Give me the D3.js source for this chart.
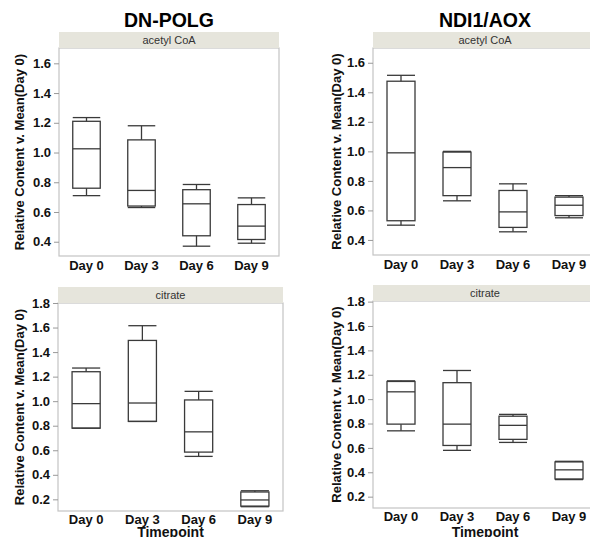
<!DOCTYPE html>
<html>
<head>
<meta charset="utf-8">
<script src="https://d3js.org/d3.v7.min.js"></script>
<style>
  body { margin: 0; background: #fff; }
  text { font-family: "Liberation Sans", Arial, sans-serif; }
</style>
</head>
<body>
<div id="chart"></div>
<script>
// categories
var days = ["Day 0", "Day 3", "Day 6", "Day 9"];

// box stats per day: [low whisker, q1, median, q3, high whisker]
var polgAcetyl = [
    [0.71, 0.76, 1.025, 1.21, 1.235],
    [0.63, 0.64, 0.745, 1.085, 1.18],
    [0.37, 0.44, 0.655, 0.75, 0.785],
    [0.39, 0.415, 0.505, 0.65, 0.695]
];
var aoxAcetyl = [
    [0.50, 0.53, 0.99, 1.475, 1.515],
    [0.665, 0.70, 0.89, 0.995, 1.0],
    [0.455, 0.485, 0.59, 0.735, 0.78],
    [0.55, 0.565, 0.635, 0.69, 0.70]
];
var polgCitrate = [
    [0.78, 0.78, 0.98, 1.24, 1.27],
    [0.835, 0.835, 0.985, 1.495, 1.615],
    [0.55, 0.585, 0.75, 1.01, 1.08],
    [0.14, 0.145, 0.195, 0.26, 0.27]
];
var aoxCitrate = [
    [0.74, 0.795, 1.06, 1.145, 1.15],
    [0.58, 0.62, 0.795, 1.135, 1.235],
    [0.645, 0.67, 0.785, 0.86, 0.875],
    [0.34, 0.345, 0.42, 0.485, 0.49]
];

// tick labels
var acetylTicks = [0.4, 0.6, 0.8, 1.0, 1.2, 1.4, 1.6];
var citrateTicks = [0.2, 0.4, 0.6, 0.8, 1.0, 1.2, 1.4, 1.6, 1.8];

var svg = d3.select("#chart")
    .append("svg")
    .attr("width", 590)
    .attr("height", 537);

function drawPanel(p) {
    var x = d3.scaleBand().domain(days).range([p.left, p.right]);
    var y = d3.scaleLinear().domain(p.domain).range([p.bottom, p.top]);
    var g = svg.append("g");

    // frame
    g.append("rect")
        .attr("x", p.left).attr("y", p.top)
        .attr("width", p.right - p.left).attr("height", p.bottom - p.top)
        .attr("fill", "none")
        .attr("stroke", "#c4c4c4")
        .attr("stroke-width", 1.2);

    // strip header
    g.append("rect")
        .attr("x", p.left).attr("y", p.stripTop)
        .attr("width", p.right - p.left).attr("height", p.top - p.stripTop)
        .attr("fill", "#e6e5dc");
    g.append("text")
        .attr("x", (p.left + p.right) / 2)
        .attr("y", (p.stripTop + p.top) / 2 + 4)
        .attr("text-anchor", "middle")
        .style("font-size", "11px")
        .style("fill", "#333")
        .text(p.strip);

    // y axis
    var yAxis = g.append("g")
        .attr("transform", "translate(" + p.left + ",0)")
        .call(d3.axisLeft(y).tickValues(p.ticks).tickSize(5).tickPadding(3).tickFormat(d3.format(".1f")));
    yAxis.select(".domain").remove();
    yAxis.selectAll("line").attr("stroke", "#999");
    yAxis.selectAll("text")
        .style("font-size", "13px")
        .style("font-weight", "bold")
        .style("font-family", "'Liberation Sans', Arial, sans-serif")
        .attr("fill", "#111");

    // x axis
    var xAxis = g.append("g")
        .attr("transform", "translate(0," + p.bottom + ")")
        .call(d3.axisBottom(x).tickSize(0).tickPadding(p.xtitle ? 3.5 : 5));
    xAxis.select(".domain").remove();
    xAxis.selectAll("text")
        .style("font-size", "13px")
        .style("font-weight", "bold")
        .style("font-family", "'Liberation Sans', Arial, sans-serif")
        .attr("fill", "#111");

    // boxes
    var bw = x.bandwidth() * 0.5;
    var boxes = g.append("g")
        .selectAll("g")
        .data(p.data)
        .enter()
        .append("g")
        .attr("transform", function(d, i) { return "translate(" + (x(days[i]) + x.bandwidth() / 2) + ",0)"; })
        .attr("stroke", "#3a3a3a")
        .attr("stroke-width", 1.3)
        .attr("fill", "none");

    boxes.append("line")
        .attr("x1", 0).attr("x2", 0)
        .attr("y1", function(d) { return y(d[4]); })
        .attr("y2", function(d) { return y(d[3]); });
    boxes.append("line")
        .attr("x1", 0).attr("x2", 0)
        .attr("y1", function(d) { return y(d[1]); })
        .attr("y2", function(d) { return y(d[0]); });
    boxes.append("rect")
        .attr("x", -bw / 2)
        .attr("width", bw)
        .attr("y", function(d) { return y(d[3]); })
        .attr("height", function(d) { return y(d[1]) - y(d[3]); });
    boxes.append("line")
        .attr("x1", -bw / 2).attr("x2", bw / 2)
        .attr("y1", function(d) { return y(d[2]); })
        .attr("y2", function(d) { return y(d[2]); });
    // whisker caps
    boxes.append("line")
        .attr("x1", -bw / 2).attr("x2", bw / 2)
        .attr("y1", function(d) { return y(d[4]); })
        .attr("y2", function(d) { return y(d[4]); });
    boxes.append("line")
        .attr("x1", -bw / 2).attr("x2", bw / 2)
        .attr("y1", function(d) { return y(d[0]); })
        .attr("y2", function(d) { return y(d[0]); });

    // y title
    g.append("text")
        .attr("transform", "translate(" + p.ytitleX + "," + ((p.top + p.bottom) / 2) + ") rotate(-90)")
        .attr("text-anchor", "middle")
        .style("font-size", "13px")
        .style("font-weight", "bold")
        .style("fill", "#111")
        .text("Relative Content v. Mean(Day 0)");

    if (p.title) {
        g.append("text")
            .attr("x", (p.left + p.right) / 2)
            .attr("y", 27)
            .attr("text-anchor", "middle")
            .style("font-size", "19.5px")
            .style("font-weight", "bold")
            .style("fill", "#000")
            .text(p.title);
    }
    if (p.xtitle) {
        // sits right at the bottom edge, as in the original figure
        g.append("text")
            .attr("x", (p.left + p.right) / 2)
            .attr("y", 536.5)
            .attr("text-anchor", "middle")
            .style("font-size", "14px")
            .style("font-weight", "bold")
            .style("fill", "#111")
            .text(p.xtitle);
    }
}

drawPanel({left: 59, right: 279, stripTop: 32, top: 48, bottom: 256, domain: [0.304, 1.703],
    ticks: acetylTicks, data: polgAcetyl, strip: "acetyl CoA", title: "DN-POLG", ytitleX: 24});
drawPanel({left: 373, right: 597, stripTop: 32, top: 48, bottom: 255, domain: [0.298, 1.70],
    ticks: acetylTicks, data: aoxAcetyl, strip: "acetyl CoA", title: "NDI1/AOX", ytitleX: 341});
drawPanel({left: 58, right: 283, stripTop: 287, top: 303, bottom: 511, domain: [0.105, 1.80],
    ticks: citrateTicks, data: polgCitrate, strip: "citrate", xtitle: "Timepoint", ytitleX: 24});
drawPanel({left: 373, right: 597, stripTop: 285, top: 301, bottom: 508, domain: [0.107, 1.805],
    ticks: citrateTicks, data: aoxCitrate, strip: "citrate", xtitle: "Timepoint", ytitleX: 341});
</script>
</body>
</html>
